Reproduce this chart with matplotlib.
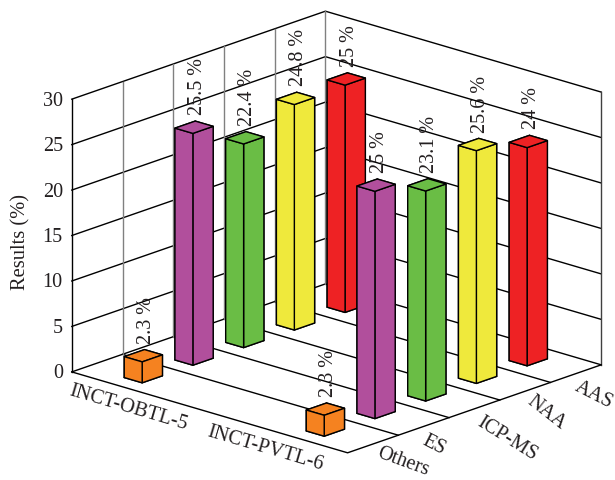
import matplotlib
matplotlib.use("Agg")
import matplotlib.pyplot as plt
from mpl_toolkits.mplot3d import proj3d

plt.rcParams['font.family'] = ['Liberation Serif', 'DejaVu Serif']

samples = ["INCT-OBTL-5", "INCT-PVTL-6"]
methods = ["Others", "ES", "ICP-MS", "NAA", "AAS"]
others = [2.3, 2.3]
es = [25.5, 25]
icp_ms = [22.4, 23.1]
naa = [24.8, 25.6]
aas = [25, 24]
z_ticks = [0, 5, 10, 15, 20, 25, 30]

series = [others, es, icp_ms, naa, aas]
colors = ["#F58220", "#B14F9C", "#6ABD45", "#EFE93C", "#EE2224"]
TXT = "#231F20"


def label(ax, x, y, z, s, dx, dy, **kw):
    # project the 3d point, then shift the text in pixels
    px, py, _ = proj3d.proj_transform(x, y, z, ax.get_proj())
    ax.annotate(s, (px, py), xytext=(dx, dy), textcoords="offset pixels",
                annotation_clip=False, color=TXT, zorder=50, **kw)


def line(ax, xs, ys, zs, color="k"):
    ax.plot(xs, ys, zs, color=color, lw=1.0, zorder=1, clip_on=False)


def main():
    fig = plt.figure(figsize=(6.15, 4.81), dpi=100)
    ax = fig.add_axes([89.5 / 615, 1 / 481, 481 / 615, 1.0], projection="3d",
                      proj_type="ortho", computed_zorder=False)
    ax.view_init(elev=18.6, azim=-47.4)
    ax.set_box_aspect((375, 375, 288), zoom=1.217)
    ax.set_xlim(0, 2)
    ax.set_ylim(0, 5)
    ax.set_zlim(0, 30)
    ax.set_axis_off()

    # walls and floor
    for z in z_ticks:
        line(ax, [0, 0, 2], [0, 5, 5], [z, z, z])
    for y in range(1, 5):
        line(ax, [0, 2], [y, y], [0, 0])
        line(ax, [0, 0], [y, y], [0, 30], "#808080")
    line(ax, [0, 0], [5, 5], [0, 30], "#808080")
    line(ax, [0, 0], [0, 0], [0, 30])
    line(ax, [2, 2], [5, 5], [0, 30], "#404040")
    line(ax, [0, 2, 2], [0, 0, 5], [0, 0, 0])

    # bars, back to front
    zo = 2
    for j in range(len(methods) - 1, -1, -1):
        for i, x0 in enumerate([0.27, 1.59]):
            h = series[j][i]
            ax.bar3d(x0, j + 0.3, 0, 0.13, 0.4, h, color=colors[j],
                     edgecolor="k", linewidth=1.0, shade=False, zorder=zo)
            zo += 1
            label(ax, x0 + 0.065, j + 0.5, h, f"{h:g} %", 3, 13, rotation=90,
                  ha="center", va="bottom", fontsize=14.5)

    for z in z_ticks:
        label(ax, 0, 0, z, str(z), -9, -1, ha="right", va="center", fontsize=14.5)

    for i, s in enumerate(samples):
        label(ax, i + 0.5, 0, 0, s, -13, -15, rotation=-16.4, ha="center",
              va="center", rotation_mode="anchor", fontsize=14.7)

    y_rot = [-20, -27, -32, -38, -27]
    y_off = [(30, -17), (10, -18), (33, -29), (21, -21), (18, -20)]
    for j, s in enumerate(methods):
        label(ax, 2, j + 0.5, 0, s, y_off[j][0], y_off[j][1], rotation=y_rot[j],
              ha="center", va="center", rotation_mode="anchor", fontsize=14.5)

    fig.text(21 / 615, 1 - 242 / 481, "Results (%)", rotation=90, ha="center",
             va="center", color=TXT, fontsize=14.8)

    fig.savefig("out.png", dpi=100)


if __name__ == '__main__':
    main()
